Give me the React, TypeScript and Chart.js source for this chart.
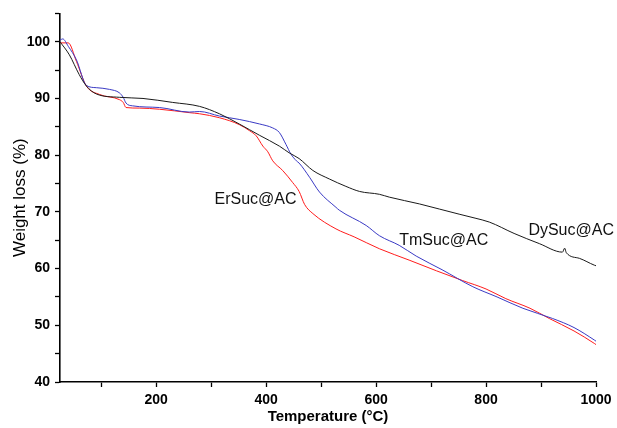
import React, { useEffect, useRef } from "react";
import { Chart, registerables } from "chart.js";

Chart.register(...registerables);

// DySuc@AC (black)
const dyTemp = [25, 42, 60, 73, 91, 133, 176, 230, 279, 315, 351, 388, 424, 442, 460, 485, 515, 545, 570, 606, 624, 679, 715, 751, 780, 806, 851, 897, 939, 943, 946, 970, 997, 1000];
const dyWeight = [100.0, 97.7, 94.2, 92.2, 90.8, 90.2, 90.0, 89.3, 88.6, 87.3, 85.5, 83.5, 81.6, 80.4, 79.4, 77.3, 75.8, 74.5, 73.6, 73.1, 72.6, 71.4, 70.5, 69.6, 68.9, 68.2, 66.2, 64.4, 62.9, 63.6, 62.8, 61.8, 60.6, 60.5];

// TmSuc@AC (blue)
const tmTemp = [25, 30, 40, 55, 73, 91, 115, 133, 140, 145, 157, 206, 260, 279, 315, 351, 388, 412, 424, 436, 445, 455, 460, 479, 497, 527, 533, 582, 606, 642, 673, 720, 776, 820, 867, 921, 960, 997, 1000];
const tmWeight = [100.3, 100.5, 99.2, 96.8, 92.3, 91.9, 91.6, 91.0, 90.2, 89.2, 88.7, 88.4, 87.6, 87.7, 86.9, 86.3, 85.5, 84.8, 84.0, 81.9, 80.2, 79.0, 78.6, 76.1, 73.5, 70.8, 70.3, 67.6, 65.8, 64.1, 62.2, 59.8, 56.8, 55.0, 53.0, 51.2, 49.6, 47.4, 47.2];

// ErSuc@AC (red)
const erTemp = [25, 40, 55, 73, 97, 133, 140, 145, 170, 206, 260, 279, 315, 351, 370, 382, 394, 403, 412, 430, 448, 460, 470, 485, 527, 560, 606, 660, 710, 757, 800, 836, 880, 915, 960, 997, 1000];
const erWeight = [99.8, 99.8, 96.5, 92.2, 90.7, 89.8, 89.3, 88.4, 88.3, 88.1, 87.5, 87.3, 86.6, 85.4, 84.3, 83.4, 81.6, 80.6, 79.0, 77.3, 75.2, 73.6, 71.3, 69.7, 67.0, 65.6, 63.5, 61.5, 59.6, 57.9, 56.4, 54.7, 53.0, 51.2, 49.0, 46.8, 46.6];

const xTicks = [100, 200, 300, 400, 500, 600, 700, 800, 900, 1000];
const yTicks = [40, 45, 50, 55, 60, 65, 70, 75, 80, 85, 90, 95, 100, 105];

const labelText = ["ErSuc@AC", "TmSuc@AC", "DySuc@AC"];
const labelTemp = [306, 642, 877];
const labelWeight = [72.2, 65.0, 66.7];

const toPoints = (xs: number[], ys: number[]) => xs.map((x, i) => ({ x, y: ys[i] }));

const annotate = {
  id: "annotate",
  afterDatasetsDraw(chart: any) {
    const { ctx, scales } = chart;
    ctx.save();
    ctx.font = '16px Arial, "Liberation Sans", sans-serif';
    ctx.fillStyle = "#111";
    ctx.textAlign = "left";
    ctx.textBaseline = "middle";
    labelText.forEach((t, i) => {
      ctx.fillText(t, scales.x.getPixelForValue(labelTemp[i]), scales.y.getPixelForValue(labelWeight[i]));
    });
    ctx.restore();
  },
};

export default function App() {
  const ref = useRef<HTMLCanvasElement>(null);
  useEffect(() => {
    if (!ref.current) return;
    const tickFont = { family: 'Arial, "Liberation Sans", sans-serif', size: 14, weight: "bold" as const };
    const line = { borderWidth: 1, pointRadius: 0, cubicInterpolationMode: "monotone" as const };
    const chart = new Chart(ref.current, {
      type: "line",
      data: {
        datasets: [
          { label: "DySuc@AC", data: toPoints(dyTemp, dyWeight), borderColor: "#1a1a1a", ...line },
          { label: "TmSuc@AC", data: toPoints(tmTemp, tmWeight), borderColor: "#3a3ac4", ...line },
          { label: "ErSuc@AC", data: toPoints(erTemp, erWeight), borderColor: "#ff1c1c", ...line },
        ],
      },
      options: {
        responsive: false,
        animation: false,
        devicePixelRatio: 1,
        layout: { padding: { top: 12, right: 21, left: 0, bottom: 0 } },
        plugins: { legend: { display: false }, tooltip: { enabled: false } },
        scales: {
          x: {
            type: "linear",
            min: 25,
            max: 1000,
            afterBuildTicks: (s: any) => { s.ticks = xTicks.map((v) => ({ value: v })); },
            afterFit: (s: any) => { s.height = 46; },
            grid: { drawOnChartArea: false, drawTicks: true, tickLength: 5, tickColor: "#000", tickWidth: 1.3 },
            border: { color: "#000", width: 1.6 },
            ticks: {
              color: "#000",
              font: tickFont,
              padding: 5,
              maxRotation: 0,
              autoSkip: false,
              callback: (v: any) => (Number(v) % 200 === 0 ? String(v) : ""),
            },
            title: {
              display: true,
              text: "Temperature (°C)",
              color: "#000",
              font: { family: 'Arial, "Liberation Sans", sans-serif', size: 15, weight: "bold" },
              padding: { top: 0, bottom: 2 },
            },
          },
          y: {
            min: 40,
            max: 105,
            afterBuildTicks: (s: any) => { s.ticks = yTicks.map((v) => ({ value: v })); },
            afterFit: (s: any) => { s.width = 60; },
            grid: { drawOnChartArea: false, drawTicks: true, tickLength: 5, tickColor: "#000", tickWidth: 1.3 },
            border: { color: "#000", width: 1.6 },
            ticks: {
              color: "#000",
              font: tickFont,
              padding: 5,
              autoSkip: false,
              callback: (v: any) => (Number(v) % 10 === 0 && Number(v) <= 100 ? String(v) : ""),
            },
            title: {
              display: true,
              text: "Weight loss (%)",
              color: "#000",
              font: { family: 'Arial, "Liberation Sans", sans-serif', size: 17, weight: "normal" },
              padding: { top: 10, bottom: 0 },
            },
          },
        },
      },
      plugins: [annotate],
    });
    return () => chart.destroy();
  }, []);
  return (
    <div style={{ position: "absolute", left: 0, top: 0, width: 617, height: 428, background: "#fff" }}>
      <canvas ref={ref} width={617} height={428} />
    </div>
  );
}
